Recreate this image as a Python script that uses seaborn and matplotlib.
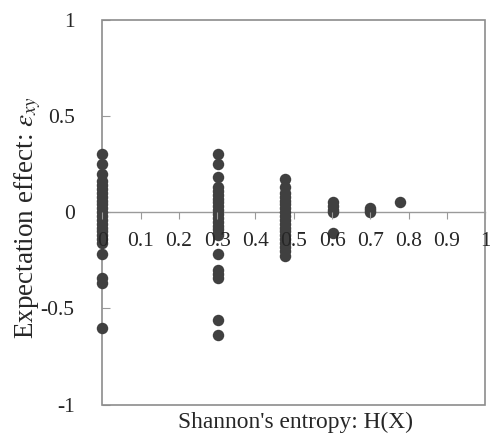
import matplotlib
matplotlib.use("Agg")
import matplotlib.pyplot as plt
import seaborn as sns
import pandas as pd
from matplotlib.patches import Rectangle

# Shannon's entropy levels (x) and the expectation effects seen at each one
h_levels = [0.0, 0.301, 0.477, 0.602, 0.699, 0.778]

eff_h0 = [0.30, 0.25, 0.20, 0.16, 0.14, 0.12, 0.10, 0.08, 0.06, 0.04, 0.02, 0.0,
          -0.02, -0.04, -0.06, -0.08, -0.10, -0.12, -0.14, -0.16, -0.22,
          -0.34, -0.37, -0.60]
eff_h1 = [0.30, 0.25, 0.18, 0.13, 0.11, 0.09, 0.07, 0.05, 0.03, 0.01, -0.01,
          -0.03, -0.05, -0.07, -0.09, -0.11, -0.12, -0.22, -0.30, -0.32,
          -0.34, -0.56, -0.64]
eff_h2 = [0.17, 0.13, 0.10, 0.08, 0.06, 0.04, 0.02, 0.0, -0.02, -0.04, -0.06,
          -0.08, -0.10, -0.12, -0.14, -0.16, -0.18, -0.20, -0.23]
eff_h3 = [0.05, 0.03, 0.01, 0.0, -0.11]
eff_h4 = [0.02, 0.01, 0.0]
eff_h5 = [0.05]

x_ticks = [0, 0.1, 0.2, 0.3, 0.4, 0.5, 0.6, 0.7, 0.8, 0.9, 1]
x_tick_labels = ["0", "0.1", "0.2", "0.3", "0.4", "0.5", "0.6", "0.7", "0.8", "0.9", "1"]
y_ticks = [-1, -0.5, 0, 0.5, 1]
y_tick_labels = ["-1", "-0.5", "0", "0.5", "1"]

rows = []
for h, effs in zip(h_levels, [eff_h0, eff_h1, eff_h2, eff_h3, eff_h4, eff_h5]):
    for e in effs:
        rows.append({"H": h, "eps": e})
df = pd.DataFrame(rows)

sns.set_style("white")
plt.rcParams["font.family"] = ["Liberation Serif", "DejaVu Serif"]
plt.rcParams["mathtext.fontset"] = "stix"

fig = plt.figure(figsize=(4.9, 4.36), dpi=100)
ax = fig.add_axes([0.209, 0.072, 0.781, 0.883])

sns.scatterplot(data=df, x="H", y="eps", ax=ax, color="#404040",
                s=68, linewidth=0, zorder=3, legend=False, clip_on=False)

ax.set_xlim(0, 1)
ax.set_ylim(-1, 1)

# x axis crosses at y = 0, the frame stays round the plot
for side in ["top", "right", "left"]:
    ax.spines[side].set_visible(False)
ax.spines["bottom"].set_position(("data", 0))
ax.spines["bottom"].set_color("#9a9a9a")
ax.spines["bottom"].set_linewidth(1.0)
ax.spines["bottom"].set_zorder(2)
ax.add_patch(Rectangle((0, 0), 1, 1, transform=ax.transAxes, fill=False,
                       edgecolor="#8c8c8c", linewidth=1.2, zorder=1, clip_on=False))

ax.set_xticks(x_ticks)
ax.set_xticklabels(x_tick_labels, fontsize=15.5)
ax.set_yticks(y_ticks)
ax.set_yticklabels(y_tick_labels, fontsize=15.5)
ax.tick_params(axis="x", direction="out", length=5, color="#9a9a9a", pad=9)
ax.tick_params(axis="y", direction="in", length=6, color="#9a9a9a", pad=20)
ax.tick_params(axis="y", left=True)
ax.tick_params(axis="x", bottom=True)
ax.xaxis.set_zorder(4)  # the "0" label sits over the dots

ax.set_xlabel("")
ax.set_ylabel("")
fig.text(0.604, 0.032, "Shannon's entropy: H(X)", fontsize=16.8, ha="center", va="center")
fig.text(0.056, 0.5, r"Expectation effect: $\varepsilon_{xy}$", fontsize=19.5,
         rotation=90, ha="center", va="center")

plt.savefig("out.png", dpi=100)
plt.close()
